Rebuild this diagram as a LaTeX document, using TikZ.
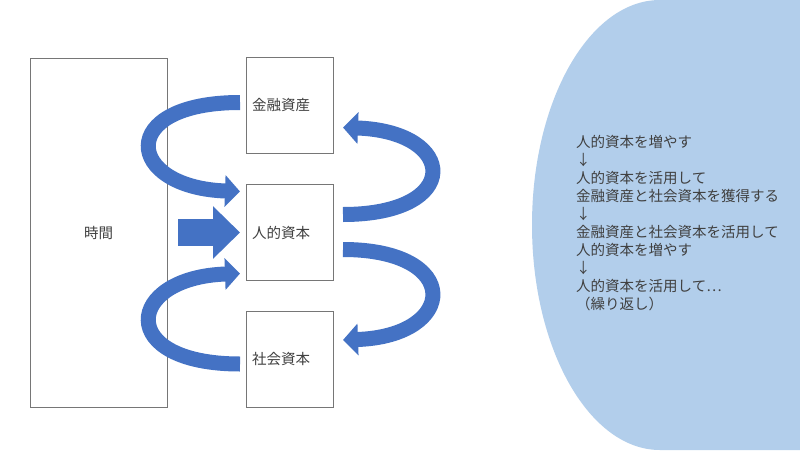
\documentclass[tikz,border=0pt]{standalone}
\usepackage{fontspec}
\setmainfont{Noto Sans CJK JP}
\usepackage{tikz}
\usetikzlibrary{arrows.meta, positioning, calc}
\definecolor{arcblue}{HTML}{4472C4}
\definecolor{panelblue}{RGB}{178,206,235}
\definecolor{boxline}{RGB}{118,118,118}
\definecolor{txtgray}{RGB}{64,64,64}
\tikzset{
    box_plain/.style={rectangle, draw=boxline, line width=0.8pt, fill=white, inner sep=0pt, outer sep=0pt, text=txtgray, font=\fontsize{14.5pt}{17pt}\selectfont},
    box_side/.style={box_plain, text width=75pt, inner xsep=6pt, align=left, minimum height=96pt},
    arrow_curve/.style={draw=arcblue, line width=15pt, -{Triangle[length=15pt,width=31pt]}},
    arrow_big/.style={draw=arcblue, line width=27pt, -{Triangle[length=27pt,width=51pt]}}
}

\begin{document}
\begin{tikzpicture}[x=1pt, y=-1pt, node distance=31pt and 79pt]
			\useasboundingbox (0,0) rectangle (800,450);
			\fill[white] (0,0) rectangle (800,450);
			
			% Right panel
			\fill[panelblue] (800,0) -- (660,0) arc [start angle=90, end angle=270, x radius=128pt, y radius=225pt] -- (800,450) -- cycle;
			\node (cycle) [anchor=north west, inner sep=0pt, align=left, text=txtgray, font=\fontsize{14.5pt}{18pt}\selectfont] at (576,135) {人的資本を増やす\\↓\\人的資本を活用して\\金融資産と社会資本を獲得する\\↓\\金融資産と社会資本を活用して\\人的資本を増やす\\↓\\人的資本を活用して⋯\\（繰り返し）};
			
			% Boxes
			\node (jikan) [box_plain, minimum width=137pt, minimum height=349pt] at (98.5,232.5) {時間};
			
			\node (jinteki) [box_side, right=of jikan] {人的資本};
			
			\node (kinyu) [box_side, above=of jinteki] {金融資産};
			
			\node (shakai) [box_side, below=of jinteki] {社会資本};
			
			% Connections
			\draw [arrow_big] ($(jikan.east)+(11,0)$) -- ($(jinteki.west)+(-6,0)$);
			
			\draw [arrow_curve] ($(kinyu.west)+(-6,-3)$) .. controls +(-125,0) and +(-115,-4) .. ($(jinteki.west)+(-6,-41)$);
			\draw [arrow_curve] ($(shakai.west)+(-6,4.5)$) .. controls +(-125,0) and +(-115,4) .. ($(jinteki.west)+(-6,41)$);
			
			\draw [arrow_curve] ($(jinteki.east)+(10,-18)$) .. controls +(120,0) and +(115,4) .. ($(kinyu.east)+(10,22)$);
			\draw [arrow_curve] ($(jinteki.east)+(10,17)$) .. controls +(120,0) and +(115,-4) .. ($(shakai.east)+(10,-19.5)$);
		\end{tikzpicture}
\end{document}
